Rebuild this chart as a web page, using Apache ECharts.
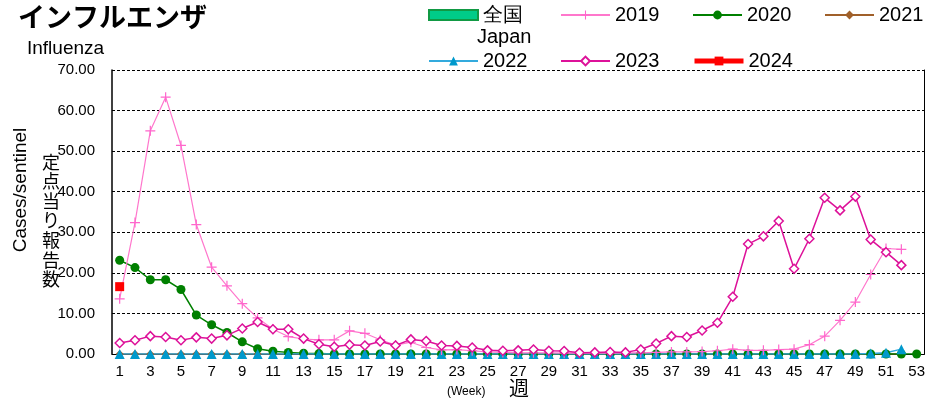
<!DOCTYPE html>
<html>
<head>
<meta charset="utf-8">
<script src="https://cdn.jsdelivr.net/npm/echarts@6/dist/echarts.min.js"></script>
<style>
  html, body { margin: 0; padding: 0; background: #fff; }
  #chart { width: 928px; height: 403px; }
</style>
</head>
<body>
<div id="chart"></div>
<script>
// weeks 1..53
const weeks = ['1','2','3','4','5','6','7','8','9','10','11','12','13','14','15','16','17','18','19','20',
  '21','22','23','24','25','26','27','28','29','30','31','32','33','34','35','36','37','38','39','40',
  '41','42','43','44','45','46','47','48','49','50','51','52','53'];

const y2019 = [13.6, 32.4, 55.0, 63.3, 51.4, 31.9, 21.4, 16.8, 12.4, 8.9,
  6.1, 4.3, 3.7, 3.5, 3.5, 5.7, 5.1, 3.5, 2.2, 2.9,
  1.6, 1.0, 1.1, 0.8, 0.5, 0.4, 0.3, 0.3, 0.3, 0.2,
  0.2, 0.2, 0.2, 0.3, 0.3, 0.4, 0.5, 0.5, 0.6, 0.8,
  1.2, 0.9, 0.9, 1.1, 1.2, 2.3, 4.4, 8.3, 12.8, 19.6, 26.0, 25.8];
const y2020 = [23.1, 21.3, 18.3, 18.3, 15.9, 9.6, 7.2, 5.3, 3.0, 1.3,
  0.7, 0.4, 0.2, 0.1, 0.0, 0.0, 0.0, 0.0, 0.0, 0.0,
  0.0, 0.0, 0.0, 0.0, 0.0, 0.0, 0.0, 0.0, 0.0, 0.0,
  0.0, 0.0, 0.0, 0.0, 0.0, 0.0, 0.0, 0.0, 0.0, 0.0,
  0.0, 0.0, 0.0, 0.0, 0.0, 0.0, 0.0, 0.0, 0.0, 0.0, 0.0, 0.0, 0.0];
const y2021 = [0.0, 0.0, 0.0, 0.0, 0.0, 0.0, 0.0, 0.0, 0.0, 0.0,
  0.0, 0.0, 0.0, 0.0, 0.0, 0.0, 0.0, 0.0, 0.0, 0.0,
  0.0, 0.0, 0.0, 0.0, 0.0, 0.0, 0.0, 0.0, 0.0, 0.0,
  0.0, 0.0, 0.0, 0.0, 0.0, 0.0, 0.0, 0.0, 0.0, 0.0,
  0.0, 0.0, 0.0, 0.0, 0.0, 0.0, 0.0, 0.0, 0.0, 0.0, 0.0, 0.0];
const y2022 = [0.0, 0.0, 0.0, 0.0, 0.0, 0.0, 0.0, 0.0, 0.0, 0.0,
  0.0, 0.0, 0.0, 0.0, 0.0, 0.0, 0.0, 0.0, 0.0, 0.0,
  0.0, 0.0, 0.0, 0.0, 0.0, 0.0, 0.0, 0.0, 0.0, 0.0,
  0.0, 0.0, 0.0, 0.0, 0.0, 0.0, 0.0, 0.0, 0.0, 0.0,
  0.0, 0.0, 0.0, 0.0, 0.0, 0.0, 0.0, 0.0, 0.0, 0.1, 0.3, 1.2];
const y2023 = [2.7, 3.4, 4.4, 4.2, 3.4, 4.1, 3.8, 4.6, 6.3, 7.9,
  6.1, 6.1, 3.8, 2.4, 1.8, 2.3, 2.1, 3.1, 2.1, 3.6,
  3.2, 2.1, 2.0, 1.6, 0.9, 0.8, 0.9, 1.1, 0.8, 0.75,
  0.3, 0.4, 0.5, 0.4, 1.1, 2.6, 4.4, 4.2, 5.8, 7.7,
  14.1, 27.1, 29.0, 32.8, 21.0, 28.4, 38.5, 35.4, 38.8, 28.2, 25.1, 21.9];
const y2024 = [16.6];
const allJapan = [];

const font = '"Liberation Sans", Arial, sans-serif';
const jpFont = '"Noto Sans CJK JP", sans-serif';
const plus = 'path://M4.4,0H5.6V4.4H10V5.6H5.6V10H4.4V5.6H0V4.4H4.4Z';

var chart = echarts.init(document.getElementById('chart'));

// one legend box per item so the columns line up like the original
function legendItem(name, left, top, extra) {
  return Object.assign({
    left: left, top: top, itemWidth: 49, itemHeight: 11, itemGap: 0,
    textStyle: { color: '#000', fontSize: 20, fontFamily: font },
    data: [name]
  }, extra || {});
}

var option = {
  animation: false,
  grid: { left: 112, right: 2, top: 70, bottom: 49 },
  legend: [
    legendItem('全国', 423, 0, { icon: 'rect', itemHeight: 10 }),
    legendItem('2019', 555, 0),
    legendItem('2020', 687, 0),
    legendItem('2021', 819, 0),
    legendItem('2022', 423, 46),
    legendItem('2023', 555, 46),
    legendItem('2024', 687, 46, { lineStyle: { width: 5 } })
  ],
  xAxis: {
    type: 'category',
    data: weeks,
    boundaryGap: true,
    axisLine: { lineStyle: { color: '#000' } },
    axisTick: { show: false },
    axisLabel: { interval: 1, color: '#000', fontSize: 15, fontFamily: font, margin: 10 }
  },
  yAxis: [
    {
      type: 'value', min: 0, max: 70, interval: 10,
      axisLine: { show: true, lineStyle: { color: '#000', width: 1.5 } },
      axisTick: { show: false },
      axisLabel: { color: '#000', fontSize: 15, fontFamily: font, margin: 17,
        formatter: function (v) { return v.toFixed(2); } },
      splitLine: { show: true, lineStyle: { color: '#000', type: [3, 2], width: 1 } }
    },
    {
      type: 'value', min: 0, max: 70, position: 'right',
      axisLine: { show: true, lineStyle: { color: '#000' } },
      axisTick: { show: false }, axisLabel: { show: false }, splitLine: { show: false }
    }
  ],
  series: [
    {
      name: '全国', type: 'bar', data: allJapan,
      itemStyle: { color: '#00cc88', borderColor: '#119944', borderWidth: 1 }
    },
    {
      name: '2021', type: 'line', data: y2021, symbol: 'diamond', symbolSize: 8,
      lineStyle: { color: '#a0602a', width: 1.5 }, itemStyle: { color: '#a0602a' }
    },
    {
      name: '2020', type: 'line', data: y2020, symbol: 'circle', symbolSize: 9,
      lineStyle: { color: '#008000', width: 1.5 }, itemStyle: { color: '#008000' }
    },
    {
      name: '2022', type: 'line', data: y2022, symbol: 'triangle', symbolSize: 10,
      lineStyle: { color: '#33aadd', width: 1.5 }, itemStyle: { color: '#0099cc' }
    },
    {
      name: '2019', type: 'line', data: y2019, symbol: plus, symbolSize: 10,
      lineStyle: { color: '#ff77cc', width: 1.2 }, itemStyle: { color: '#ff66cc' }
    },
    {
      name: '2023', type: 'line', data: y2023, symbol: 'diamond', symbolSize: 9,
      lineStyle: { color: '#dd1199', width: 1.5 },
      itemStyle: { color: '#fff', borderColor: '#dd1199', borderWidth: 1.5 }
    },
    {
      name: '2024', type: 'line', data: y2024, symbol: 'rect', symbolSize: 9,
      lineStyle: { color: '#ff0000', width: 4 }, itemStyle: { color: '#ff0000' }
    }
  ],
  graphic: [
    { type: 'text', left: 18, top: 3,
      style: { text: 'インフルエンザ', font: 'bold 27px ' + jpFont, fill: '#000' } },
    { type: 'text', left: 27, top: 39,
      style: { text: 'Influenza', font: '19px ' + font, fill: '#000' } },
    { type: 'text', left: 477, top: 27,
      style: { text: 'Japan', font: '20px ' + font, fill: '#000' } },
    { type: 'text', x: 21, y: 190, rotation: Math.PI / 2,
      style: { text: 'Cases/sentinel', font: '19px ' + font, fill: '#000',
        align: 'center', verticalAlign: 'middle' } },
    { type: 'text', left: 42, top: 152,
      style: { text: '定\n点\n当\nり\n報\n告\n数', font: '18px ' + jpFont, lineHeight: 19.6, fill: '#000' } },
    { type: 'text', left: 447, top: 386,
      style: { text: '(Week)', font: '12px ' + font, fill: '#000' } },
    { type: 'text', left: 509, top: 378,
      style: { text: '週', font: '20px ' + jpFont, fill: '#000' } }
  ]
};
chart.setOption(option);
</script>
</body>
</html>
